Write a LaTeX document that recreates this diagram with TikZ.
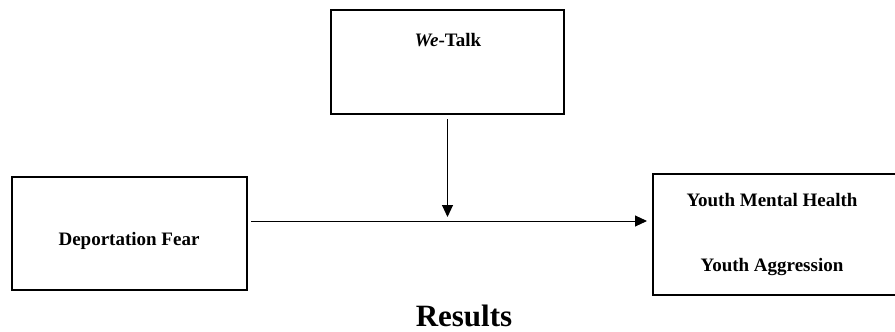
\documentclass[tikz,border=0pt]{standalone}
\usepackage{fontspec}
\setmainfont{Liberation Serif}
\usetikzlibrary{arrows.meta}
\begin{document}
\begin{tikzpicture}[x=1pt,y=-1pt,
  box/.style={draw,line width=2pt,inner sep=0pt,anchor=center},
  lbl/.style={font=\fontsize{19}{22}\selectfont\bfseries,anchor=base,inner sep=0pt},
  flow/.style={line width=1pt,-{Triangle[length=12pt,width=11pt]}}]
  \useasboundingbox (0,0) rectangle (895,332);
  % boxes
  \node[box,minimum width=233pt,minimum height=104pt] (wt) at (447.5,62) {};
  \node[box,minimum width=235pt,minimum height=113pt] (df) at (129.5,233.5) {};
  \node[box,minimum width=245pt,minimum height=121pt] (yb) at (775.5,234.5) {};
  % box texts
  \node[lbl] (wtl) at (448,46) {\textit{We}-Talk};
  \node[lbl] (dfl) at (129,245) {Deportation Fear};
  \node[lbl] (ymh) at (772,206) {Youth Mental Health};
  \node[lbl] (yag) at (772,271) {Youth Aggression};
  \node[lbl,font=\fontsize{31}{36}\selectfont\bfseries] (res) at (464,326) {Results};
  % connectors
  \coordinate (mid) at (447.5,221);
  \draw[flow,shorten <=3pt,shorten >=5pt] (df.east |- mid) -- (yb.west |- mid);
  \draw[flow,shorten <=4pt,shorten >=4pt] (wt.south) -- (mid);
\end{tikzpicture}
\end{document}
